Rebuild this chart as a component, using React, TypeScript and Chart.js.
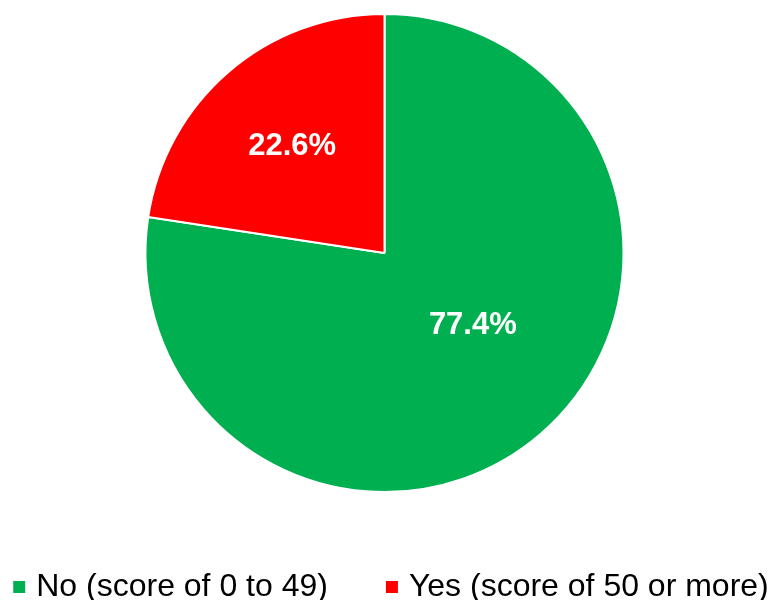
import React, { useEffect, useRef } from "react";
import { Chart, registerables } from "chart.js";

Chart.register(...registerables);

const categories = ["No (score of 0 to 49)", "Yes (score of 50 or more)"];
const values = [77.4, 22.6];
const sliceColors = ["#00B050", "#FF0000"];
// label placement (fraction of radius, angle shift in degrees) per slice
const labelRadiusFrac = [0.475, 0.593];
const labelAngleShift = [-10.4, 0];

const FONT = "'Liberation Sans', Arial, sans-serif";

const sliceLabelPlugin = {
  id: "sliceLabels",
  afterDatasetsDraw(chart: any) {
    const ctx = chart.ctx;
    const meta = chart.getDatasetMeta(0);
    ctx.save();
    ctx.fillStyle = "#ffffff";
    ctx.font = `bold 31px ${FONT}`;
    ctx.textAlign = "center";
    ctx.textBaseline = "middle";
    meta.data.forEach((arc: any, i: number) => {
      const p = arc.getProps(["x", "y", "startAngle", "endAngle", "outerRadius"], true);
      const mid = (p.startAngle + p.endAngle) / 2 + (labelAngleShift[i] * Math.PI) / 180;
      const d = p.outerRadius * labelRadiusFrac[i];
      const v = chart.data.datasets[0].data[i] as number;
      ctx.fillText(v.toFixed(1) + "%", p.x + Math.cos(mid) * d, p.y + Math.sin(mid) * d + 1);
    });
    ctx.restore();
  },
};

const bottomLegendPlugin = {
  id: "bottomLegend",
  afterDraw(chart: any) {
    const ctx = chart.ctx;
    const box = 12;
    const boxGap = 11;
    const itemGap = 58;
    ctx.save();
    ctx.font = `32px ${FONT}`;
    const labels = chart.data.labels as string[];
    const widths = labels.map((t) => ctx.measureText(t).width);
    const total =
      widths.reduce((a, w) => a + box + boxGap + w, 0) + itemGap * (labels.length - 1);
    let x = chart.width / 2 + 5 - total / 2;
    const baseline = chart.height - 4;
    const colors = chart.data.datasets[0].backgroundColor as string[];
    labels.forEach((t, i) => {
      ctx.fillStyle = colors[i];
      ctx.fillRect(x, baseline - 15, box, box);
      x += box + boxGap;
      ctx.fillStyle = "#000000";
      ctx.textAlign = "left";
      ctx.textBaseline = "alphabetic";
      ctx.fillText(t, x, baseline);
      x += widths[i] + itemGap;
    });
    ctx.restore();
  },
};

export default function App() {
  const canvasRef = useRef<HTMLCanvasElement | null>(null);

  useEffect(() => {
    document.body.style.margin = "0";
    const canvas = canvasRef.current;
    if (!canvas) return;
    const chart = new Chart(canvas, {
      type: "pie",
      data: {
        labels: categories,
        datasets: [
          {
            data: values,
            backgroundColor: sliceColors,
            borderColor: "#ffffff",
            borderWidth: 2,
          },
        ],
      },
      options: {
        responsive: false,
        animation: false,
        layout: { padding: { top: 13, bottom: 107, left: 0, right: 3 } },
        plugins: {
          legend: { display: false },
          tooltip: { enabled: false },
        },
      },
      plugins: [sliceLabelPlugin, bottomLegendPlugin],
    });
    return () => chart.destroy();
  }, []);

  return (
    <div style={{ width: 772, height: 600, background: "#ffffff" }}>
      <canvas ref={canvasRef} width={772} height={600} />
    </div>
  );
}
